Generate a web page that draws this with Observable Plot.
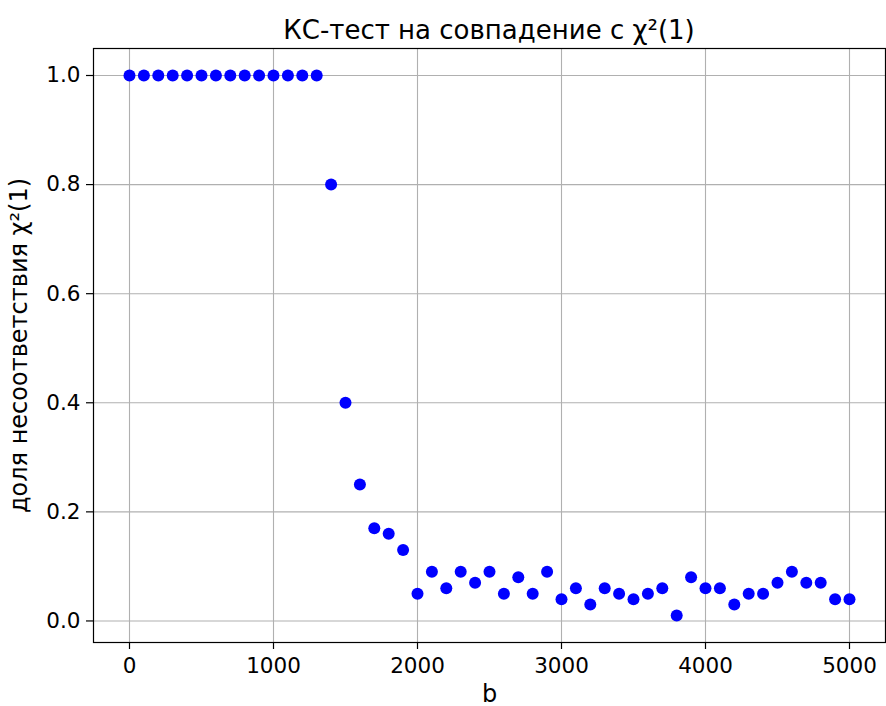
<!DOCTYPE html>
<html>
<head>
<meta charset="utf-8">
<script src="https://cdn.jsdelivr.net/npm/d3@7"></script>
<script src="https://cdn.jsdelivr.net/npm/@observablehq/plot@0.6"></script>
<style>
  html, body { margin: 0; padding: 0; background: #fff; }
  #title {
    width: 886px; height: 38px; box-sizing: border-box; overflow: visible;
    font-family: "DejaVu Sans", sans-serif; font-size: 26px; color: #000;
    text-align: center; padding-left: 92px; padding-top: 17px; line-height: 26px;
    white-space: nowrap;
  }
</style>
</head>
<body>
<div id="title">КС-тест на совпадение с χ²(1)</div>
<div id="chart"></div>
<script>
// Sample size b
const bValues = [
  0, 100, 200, 300, 400, 500, 600, 700, 800, 900, 1000, 1100, 1200, 1300,
  1400, 1500, 1600, 1700, 1800, 1900, 2000, 2100, 2200, 2300, 2400, 2500,
  2600, 2700, 2800, 2900, 3000, 3100, 3200, 3300, 3400, 3500, 3600, 3700,
  3800, 3900, 4000, 4100, 4200, 4300, 4400, 4500, 4600, 4700, 4800, 4900, 5000
];
// Share of KS tests rejecting χ²(1)
const mismatchShare = [
  1.0, 1.0, 1.0, 1.0, 1.0, 1.0, 1.0, 1.0, 1.0, 1.0, 1.0, 1.0, 1.0, 1.0,
  0.8, 0.4, 0.25, 0.17, 0.16, 0.13, 0.05, 0.09, 0.06, 0.09, 0.07, 0.09,
  0.05, 0.08, 0.05, 0.09, 0.04, 0.06, 0.03, 0.06, 0.05, 0.04, 0.05, 0.06,
  0.01, 0.08, 0.06, 0.06, 0.03, 0.05, 0.05, 0.07, 0.09, 0.07, 0.07, 0.04, 0.04
];
const xTicks = [0, 1000, 2000, 3000, 4000, 5000];
const yTicks = [0.0, 0.2, 0.4, 0.6, 0.8, 1.0];

const data = bValues.map((b, i) => ({b, share: mismatchShare[i]}));

const chart = Plot.plot({
  width: 886,
  height: 668,
  marginTop: 10,
  marginBottom: 64,
  marginLeft: 93,
  marginRight: 1,
  style: {fontFamily: "DejaVu Sans, sans-serif", fontSize: "21.5px", color: "#000", background: "#fff"},
  x: {domain: [-250, 5250]},
  y: {domain: [-0.0395, 1.0495]},
  marks: [
    Plot.gridX(xTicks, {stroke: "#b0b0b0", strokeOpacity: 1, strokeWidth: 1.1}),
    Plot.gridY(yTicks, {stroke: "#b0b0b0", strokeOpacity: 1, strokeWidth: 1.1}),
    Plot.dot(data, {x: "b", y: "share", r: 6, fill: "#0000ff", stroke: "none"}),
    Plot.frame({stroke: "#000", strokeWidth: 1.2}),
    Plot.axisX(xTicks, {tickSize: 7, tickPadding: 8, tickFormat: d3.format("d"), strokeWidth: 1.2, label: null}),
    Plot.axisX({label: "b", labelAnchor: "center", labelArrow: "none", labelOffset: 59, ticks: [], tickSize: 0, fontSize: 24}),
    Plot.axisY(yTicks, {tickSize: 7, tickPadding: 6, tickFormat: d3.format(".1f"), strokeWidth: 1.2, label: null}),
    Plot.axisY({label: "доля несоответствия χ²(1)", labelAnchor: "center", labelArrow: "none", labelOffset: 84, ticks: [], tickSize: 0, fontSize: 24})
  ]
});
document.getElementById("chart").appendChild(chart);
</script>
</body>
</html>
